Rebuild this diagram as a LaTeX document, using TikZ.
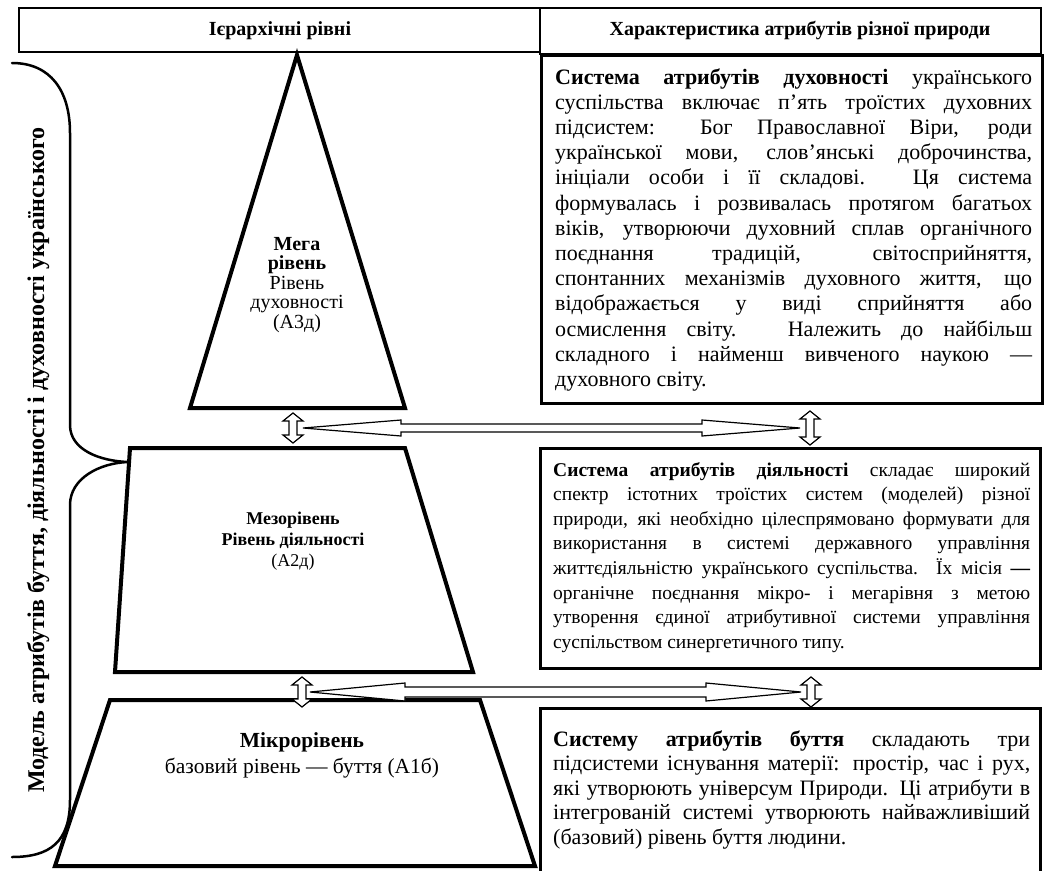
\documentclass[tikz,border=0pt]{standalone}
\usepackage{fontspec}
\setmainfont{Liberation Serif}
\newcommand{\jl}[1]{\hbox to\hsize{#1}}
\newcommand{\lastline}[1]{\hbox{#1}}
\newcommand{\cl}[1]{\hbox to\hsize{\hfil#1\hfil}}
\newcommand{\para}[3]{\vtop{\hsize=#1\baselineskip=#2\lineskiplimit=-1000pt\lineskip=0pt #3}}
\newcommand{\fs}[2]{\fontsize{#1}{#2}\selectfont}
% vertical hollow double arrow: cx, cy, half height
\newcommand{\vdarr}[3]{%
  \draw[arrowshape] (#1,#2-#3) -- (#1+10,#2-#3+8) -- (#1+4,#2-#3+8) -- (#1+4,#2+#3-8) -- (#1+10,#2+#3-8)
   -- (#1,#2+#3) -- (#1-10,#2+#3-8) -- (#1-4,#2+#3-8) -- (#1-4,#2-#3+8) -- (#1-10,#2-#3+8) -- cycle;}
% horizontal hollow double arrow: x1, x2, y, shaft half, head half, head length
\newcommand{\hdarr}[6]{%
  \draw[arrowshape] (#1,#3) -- (#1+#6,#3-#5) -- (#1+#6,#3-#4) -- (#2-#6,#3-#4) -- (#2-#6,#3-#5)
   -- (#2,#3) -- (#2-#6,#3+#5) -- (#2-#6,#3+#4) -- (#1+#6,#3+#4) -- (#1+#6,#3+#5) -- cycle;}
\begin{document}
\begin{tikzpicture}[x=1pt,y=-1pt,
  level/.style={draw=black,line width=4pt,line join=miter,fill=white},
  headbox/.style={draw=black,line width=1.3pt},
  textbox/.style={draw=black,line width=3pt},
  arrowshape/.style={draw=black,line width=1.2pt,fill=white,line join=miter},
  brace/.style={draw=black,line width=2.5pt,line cap=round},
  txt/.style={inner sep=0pt,anchor=base west},
  ctxt/.style={inner sep=0pt,anchor=base}]
\useasboundingbox[fill=white] (0,0) rectangle (1044,870);

% header
\draw[headbox] (19,8) rectangle (540,52);
\draw[headbox] (540,8) rectangle (1041,54);
\node[ctxt] (h1) at (280,35) {\fs{20}{24}\bfseries Ієрархічні рівні};
\node[ctxt] (h2) at (800,35) {\fs{20}{24}\bfseries Характеристика атрибутів різної природи};

% pyramid
\draw[level] (297,55) -- (405,408) -- (190,408) -- cycle;
\draw[level] (130,448) -- (405,448) -- (473,672) -- (115,672) -- cycle;
\draw[level] (110,700) -- (480,700) -- (535,866) -- (55,866) -- cycle;

\node[ctxt] (mega) at (297,250) {\fs{20}{19.5}\para{200pt}{19.5pt}{%
  \cl{\bfseries Мега}\cl{\bfseries рівень}\cl{Рівень}\cl{духовності}\cl{(А3д)}}};
\node[ctxt] (mezo) at (293,524) {\fs{18}{21}\para{250pt}{21pt}{%
  \cl{\bfseries Мезорівень}\cl{\bfseries Рівень діяльності}\cl{(А2д)}}};
\node[ctxt] (mikro) at (302,747) {\fs{21.5}{26}\para{380pt}{26pt}{%
  \cl{\bfseries Мікрорівень}\cl{базовий рівень — буття (А1б)}}};

% brace
\draw[brace] (12,63) .. controls (50,63) and (70,90) .. (70,133) -- (70,425)
  .. controls (70,450) and (100,461) .. (128,462)
  .. controls (100,463) and (70,478) .. (70,505) -- (70,800)
  .. controls (70,842) and (50,857) .. (12,857);
\node[inner sep=0pt,rotate=90] (model) at (38,460) {\fs{24}{28}\bfseries Модель атрибутів буття, діяльності і духовності українського};

% text boxes
\draw[textbox] (541,55) rectangle (1042,403);
\draw[textbox] (540,448) rectangle (1040,668);
\draw[textbox] (540,708) rectangle (1040,872);

\node[txt] (t1) at (555,84) {\fs{22}{25.2}\para{477pt}{25.2pt}{%
\jl{\bfseries Система атрибутів духовності \mdseries українського}
\jl{суспільства включає п’ять троїстих духовних}
\jl{підсистем: Бог Православної Віри, роди}
\jl{української мови, слов’янські доброчинства,}
\jl{ініціали особи і її складові. Ця система}
\jl{формувалась і розвивалась протягом багатьох}
\jl{віків, утворюючи духовний сплав органічного}
\jl{поєднання традицій, світосприйняття,}
\jl{спонтанних механізмів духовного життя, що}
\jl{відображається у виді сприйняття або}
\jl{осмислення світу. Належить до найбільш}
\jl{складного і найменш вивченого наукою —}
\lastline{духовного світу.}}};

\node[txt] (t2) at (553,476) {\fs{19.5}{25}\para{477pt}{24.6pt}{%
\jl{\bfseries Система атрибутів діяльності \mdseries складає широкий}
\jl{спектр істотних троїстих систем (моделей) різної}
\jl{природи, які необхідно цілеспрямовано формувати для}
\jl{використання в системі державного управління}
\jl{життєдіяльністю українського суспільства. Їх місія \bfseries —}
\jl{органічне поєднання мікро- і мегарівня з метою}
\jl{утворення єдиної атрибутивної системи управління}
\lastline{суспільством синергетичного типу.}}};

\node[txt] (t3) at (553,746) {\fs{22}{24.5}\para{477pt}{24.5pt}{%
\jl{\bfseries Систему атрибутів буття \mdseries складають три}
\jl{підсистеми існування матерії: простір, час і рух,}
\jl{які утворюють універсум Природи. Ці атрибути в}
\jl{інтегрованій системі утворюють найважливіший}
\lastline{(базовий) рівень буття людини.}}};

% arrows
\vdarr{293}{428}{15}
\vdarr{810}{428}{17}
\hdarr{303}{800}{428}{4}{8}{98}
\vdarr{302}{692}{15}
\vdarr{811}{692}{15}
\hdarr{310}{801}{692}{5}{9}{95}
\end{tikzpicture}
\end{document}
